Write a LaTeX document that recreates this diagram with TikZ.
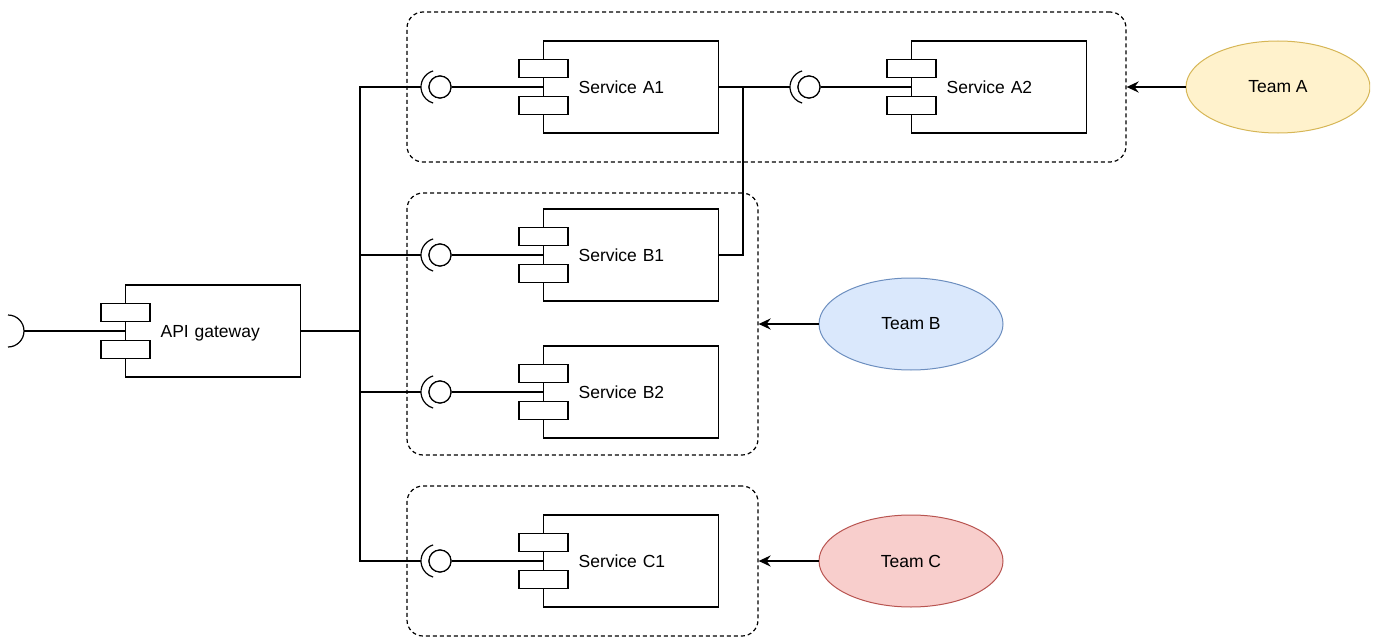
\documentclass[tikz,border=0pt]{standalone}
\usepackage{fontspec}
\setmainfont{Liberation Sans}
\usetikzlibrary{shapes.geometric,arrows.meta}

\newcommand\servicefont{\fontsize{17.5}{21}\selectfont}

\tikzset{
  compbox/.style={draw, line width=1.2pt, fill=white, minimum height=92pt,
    text width=105pt, text height=12.6pt, text depth=0pt,
    inner xsep=35pt, inner ysep=0pt, align=left, font=\servicefont},
  comptab/.style={draw, line width=1.2pt, fill=white, minimum width=49pt,
    minimum height=18pt, inner sep=0pt},
  iface/.style={draw, circle, line width=1.2pt, fill=white, minimum size=22pt, inner sep=0pt},
  socket/.style={line width=1.2pt},
  wire/.style={line width=2pt},
  thinwire/.style={line width=1.1pt},
  group/.style={draw, dashed, dash pattern=on 4pt off 3pt, line width=1.2pt,
    rounded corners=16pt, inner sep=0pt},
  team/.style={draw, ellipse, line width=1pt, minimum width=184pt, minimum height=92pt,
    inner sep=0pt, font=\servicefont},
  teamarrow/.style={line width=2pt, -{Stealth[length=12pt,width=11pt,inset=4pt]}},
}

% component box with its two tabs: name, left x, centre y, label
\newcommand\servicecomp[4]{%
  \node[compbox, anchor=west] (#1) at (#2,#3) {#4};
  \node[comptab] (#1-t1) at ([xshift=0.5pt,yshift=18.5pt]#1.west) {};
  \node[comptab] (#1-t2) at ([xshift=0.5pt,yshift=-18.5pt]#1.west) {};
}
% provided interface (ball) with the required socket around it
\newcommand\ballsocket[3]{%
  \node[iface] (#1) at (#2,#3) {};
  \draw[socket] ([xshift=-2.3pt]#1.center) ++(106:16.7pt)
    arc[start angle=106, end angle=254, radius=16.7pt];
}

\begin{document}
\begin{tikzpicture}[x=1pt, y=-1pt]
\useasboundingbox (0,0) rectangle (1382,642);
\begin{scope}
\clip (0,0) rectangle (1370,642);

% team boundaries
\node[group, minimum width=719pt, minimum height=150pt] (ga) at (766.5,87) {};
\node[group, minimum width=351pt, minimum height=262pt] (gb) at (582.5,324) {};
\node[group, minimum width=351pt, minimum height=150pt] (gc) at (582.5,561) {};

% API gateway and its socket
\coordinate (gwsock) at (24,331);
\draw[socket] ([xshift=-16pt]gwsock) ++(90:16pt) arc[start angle=90, end angle=-90, radius=16pt];
\coordinate (bus) at (360,331);

% interfaces
\ballsocket{ia1}{440}{87}
\ballsocket{ia2}{809}{87}
\ballsocket{ib1}{440}{255}
\ballsocket{ib2}{440}{392}
\ballsocket{ic1}{440}{561}
\coordinate (jn) at (743,87);

% wiring
\draw[wire] (gwsock) -- (125,331);
\draw[wire] (300,331) -- (bus);
\draw[wire] ([xshift=-19pt]ia1.center) -| (bus) |- ([xshift=-19pt]ic1.center);
\draw[thinwire] ([xshift=-19pt]ib1.center) -- (ib1.west -| bus);
\draw[thinwire] ([xshift=-19pt]ib2.center) -- (ib2.west -| bus);
\draw[wire] (ia1.east) -- (543,87);
\draw[thinwire] (ib1.east) -- (543,255);
\draw[thinwire] (ib2.east) -- (543,392);
\draw[wire] (ic1.east) -- (543,561);
\draw[wire] (718,87) -- ([xshift=-19pt]ia2.center);
\draw[wire] (ia2.east) -- (911,87);
\draw[thinwire] (718,255) -| (jn);

% components
\servicecomp{gw}{125}{331}{API gateway}
\servicecomp{a1}{543}{87}{Service A1}
\servicecomp{a2}{911}{87}{Service A2}
\servicecomp{b1}{543}{255}{Service B1}
\servicecomp{b2}{543}{392}{Service B2}
\servicecomp{c1}{543}{561}{Service C1}

% redraw the balls on top
\foreach \n in {ia1,ia2,ib1,ib2,ic1} \node[iface] at (\n) {};

% teams
\node[team, fill={rgb,255:red,255;green,242;blue,204}, draw={rgb,255:red,214;green,182;blue,86}] (ta) at (1278,87) {Team A};
\node[team, fill={rgb,255:red,218;green,232;blue,252}, draw={rgb,255:red,108;green,142;blue,191}] (tb) at (911,324) {Team B};
\node[team, fill={rgb,255:red,248;green,206;blue,204}, draw={rgb,255:red,184;green,84;blue,80}] (tc) at (911,561) {Team C};

\draw[teamarrow] (ta.west) -- (ga.east);
\draw[teamarrow] (tb.west) -- (gb.east);
\draw[teamarrow] (tc.west) -- (gc.east);
\end{scope}
\end{tikzpicture}
\end{document}
